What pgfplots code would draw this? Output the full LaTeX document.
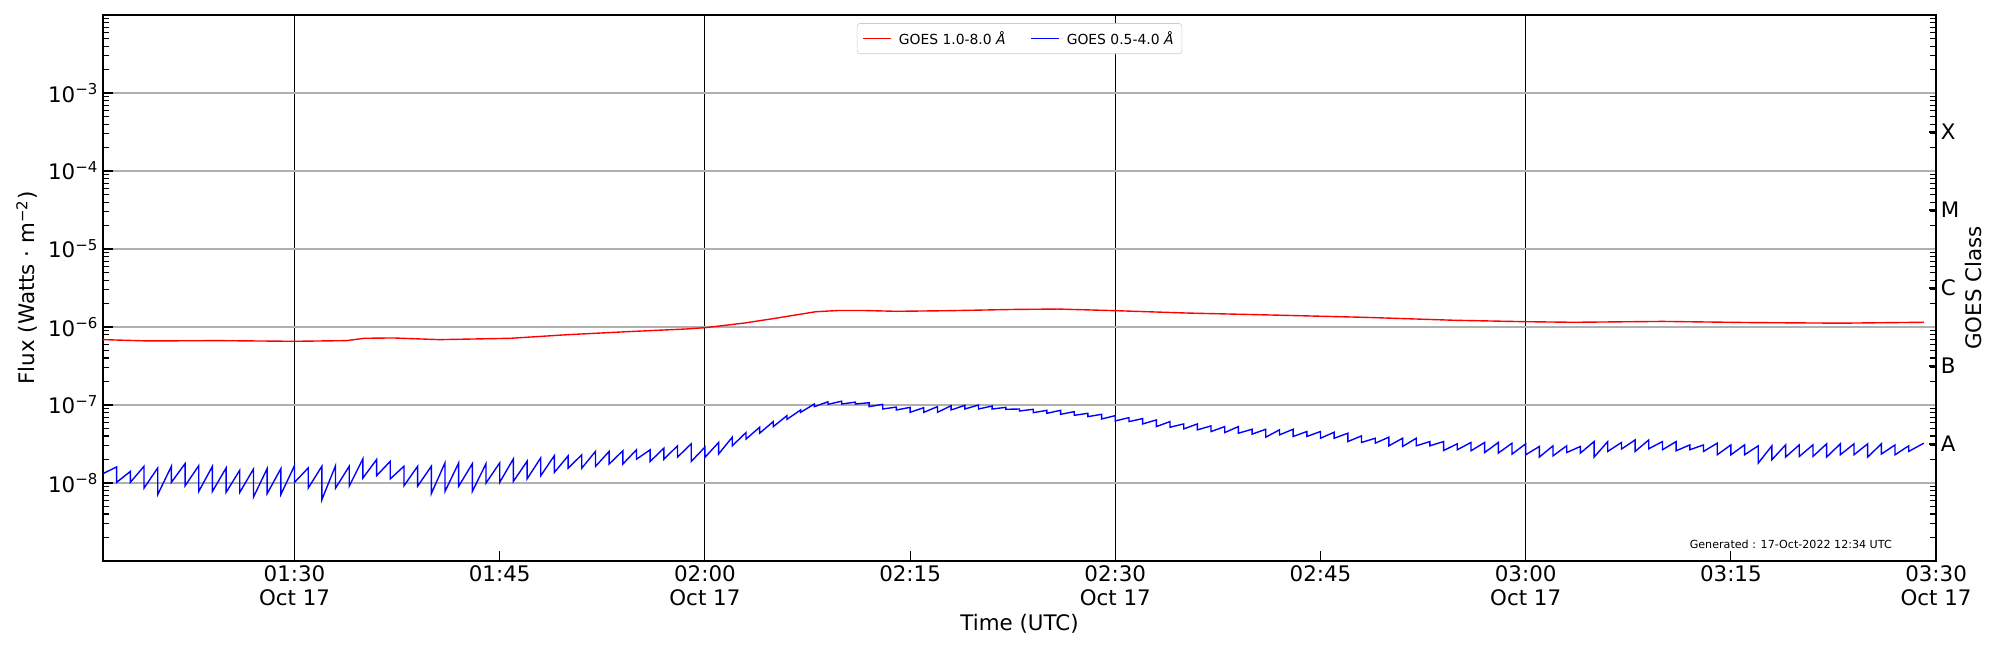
\documentclass[border=0pt]{standalone}
\usepackage{fontspec}
\setmainfont{DejaVu Sans}
\usepackage{pgfplots}
\pgfplotsset{compat=1.18}
\usepackage{pgfplotstable}
\definecolor{gridgray}{RGB}{176,176,176}
\definecolor{legframe}{RGB}{204,204,204}

\pgfplotstableread{
t v
76 6.89e-7
79.3 6.63e-7
84.4 6.69e-7
90 6.56e-7
93.8 6.69e-7
95.1 7.17e-7
97.2 7.24e-7
100.6 6.89e-7
105.8 7.17e-7
110 7.98e-7
114.3 8.71e-7
118.6 9.43e-7
120 9.80e-7
122.9 1.125e-6
125.1 1.29e-6
128.1 1.57e-6
129.8 1.63e-6
131.5 1.63e-6
134 1.59e-6
137.9 1.62e-6
142.6 1.68e-6
145.8 1.70e-6
150 1.62e-6
155.3 1.51e-6
161.8 1.42e-6
168.3 1.33e-6
174.8 1.22e-6
180 1.17e-6
183.5 1.15e-6
190 1.18e-6
196.5 1.14e-6
203 1.12e-6
209.1 1.15e-6
}\goesa

\pgfplotstableread{
t v
76 1.32e-8
77 1.61e-8
77 1.02e-8
78 1.41e-8
78 1.02e-8
79 1.64e-8
79 0.86e-8
80 1.56e-8
80 0.71e-8
81 1.64e-8
81 1.02e-8
82 1.77e-8
82 0.92e-8
83 1.67e-8
83 0.78e-8
84 1.64e-8
84 0.78e-8
85 1.56e-8
85 0.76e-8
86 1.46e-8
86 0.76e-8
87 1.51e-8
87 0.66e-8
88 1.53e-8
88 0.73e-8
89 1.53e-8
89 0.71e-8
90 1.67e-8
90 1.02e-8
91 1.56e-8
91 0.86e-8
92 1.64e-8
92 0.61e-8
93 1.67e-8
93 0.86e-8
94 1.64e-8
94 0.91e-8
95 2.04e-8
95 1.16e-8
96 2.00e-8
96 1.24e-8
97 1.90e-8
97 1.13e-8
98 1.64e-8
98 0.92e-8
99 1.64e-8
99 0.91e-8
100 1.64e-8
100 0.73e-8
101 1.81e-8
101 0.78e-8
102 1.81e-8
102 0.91e-8
103 1.77e-8
103 0.78e-8
104 1.77e-8
104 1.00e-8
105 1.81e-8
105 1.02e-8
106 2.04e-8
106 1.05e-8
107 1.90e-8
107 1.13e-8
108 2.10e-8
108 1.24e-8
109 2.25e-8
109 1.37e-8
110 2.23e-8
110 1.55e-8
111 2.30e-8
111 1.55e-8
112 2.54e-8
112 1.63e-8
113 2.54e-8
113 1.75e-8
114 2.59e-8
114 1.75e-8
115 2.67e-8
115 2.02e-8
116 2.67e-8
116 1.89e-8
117 2.80e-8
117 2.02e-8
118 3.00e-8
118 2.15e-8
119 3.18e-8
119 1.89e-8
120 2.88e-8
120 2.13e-8
121 3.31e-8
121 2.35e-8
122 3.87e-8
122 3.00e-8
123 4.43e-8
123 3.65e-8
124 5.19e-8
124 4.35e-8
125 6.13e-8
125 5.29e-8
126 7.31e-8
126 6.56e-8
127 8.64e-8
127 8.06e-8
128 10.3e-8
128 9.53e-8
129 11.0e-8
129 10.2e-8
130 11.2e-8
130 10.3e-8
131 10.9e-8
131 10.3e-8
132 10.7e-8
132 9.53e-8
133 10.2e-8
133 8.89e-8
134 9.42e-8
134 8.64e-8
135 9.33e-8
135 8.06e-8
136 9.25e-8
136 8.06e-8
137 9.53e-8
137 8.06e-8
138 9.80e-8
138 8.64e-8
139 9.90e-8
139 8.89e-8
140 10.0e-8
140 8.89e-8
141 9.71e-8
141 8.89e-8
142 9.33e-8
142 8.81e-8
143 8.89e-8
143 8.38e-8
144 8.81e-8
144 7.98e-8
145 8.55e-8
145 7.83e-8
146 8.55e-8
146 7.60e-8
147 8.22e-8
147 7.38e-8
148 7.83e-8
148 7.10e-8
149 7.60e-8
149 6.62e-8
150 7.31e-8
150 6.25e-8
151 6.89e-8
151 6.13e-8
152 6.70e-8
152 5.72e-8
153 6.44e-8
153 5.29e-8
154 6.13e-8
154 5.19e-8
155 5.72e-8
155 4.94e-8
156 5.72e-8
156 4.80e-8
157 5.40e-8
157 4.57e-8
158 5.29e-8
158 4.43e-8
159 5.29e-8
159 4.35e-8
160 4.89e-8
160 4.23e-8
161 4.89e-8
161 3.87e-8
162 4.80e-8
162 4.14e-8
163 4.89e-8
163 3.95e-8
164 4.57e-8
164 3.95e-8
165 4.57e-8
165 3.75e-8
166 4.48e-8
166 3.75e-8
167 4.35e-8
167 3.40e-8
168 4.02e-8
168 3.31e-8
169 3.75e-8
169 3.24e-8
170 3.87e-8
170 3.00e-8
171 3.75e-8
171 2.94e-8
172 3.75e-8
172 3.00e-8
173 3.40e-8
173 3.00e-8
174 3.40e-8
174 2.61e-8
175 3.18e-8
175 2.67e-8
176 3.31e-8
176 2.59e-8
177 3.31e-8
177 2.46e-8
178 3.31e-8
178 2.42e-8
179 3.24e-8
179 2.35e-8
180 3.18e-8
180 2.30e-8
181 2.94e-8
181 2.15e-8
182 3.00e-8
182 2.23e-8
183 3.00e-8
183 2.46e-8
184 2.94e-8
184 2.42e-8
185 3.40e-8
185 2.15e-8
186 3.40e-8
186 2.54e-8
187 3.31e-8
187 2.72e-8
188 3.57e-8
188 2.54e-8
189 3.57e-8
189 2.75e-8
190 3.40e-8
190 2.67e-8
191 3.40e-8
191 2.59e-8
192 3.08e-8
192 2.67e-8
193 3.08e-8
193 2.54e-8
194 3.24e-8
194 2.30e-8
195 3.08e-8
195 2.30e-8
196 3.08e-8
196 2.30e-8
197 3.00e-8
197 1.80e-8
198 3.00e-8
198 1.99e-8
199 3.08e-8
199 2.15e-8
200 3.08e-8
200 2.19e-8
201 3.08e-8
201 2.19e-8
202 3.18e-8
202 2.15e-8
203 3.18e-8
203 2.30e-8
204 3.18e-8
204 2.30e-8
205 3.18e-8
205 2.15e-8
206 3.18e-8
206 2.35e-8
207 3.08e-8
207 2.30e-8
208 3.00e-8
208 2.54e-8
209.1 3.24e-8
}\goesb

\begin{document}
\begin{tikzpicture}
\useasboundingbox (0,0) rectangle (1440pt,468pt);
\begin{axis}[
  at={(74.16pt,64.08pt)}, anchor=south west,
  scale only axis, width=1319.8pt, height=393.1pt,
  xmin=76, xmax=210,
  ymode=log, ymin=1e-9, ymax=1e-2,
  tick align=inside,
  tick style={black, line width=0.8pt},
  axis line style={black, line width=0.9pt},
  tick label style={font=\fontsize{15.4}{17.2}\selectfont},
  label style={font=\fontsize{15.4}{18}\selectfont},
  minor ytick={2e-9,3e-9,4e-9,5e-9,6e-9,7e-9,8e-9,9e-9,
    2e-8,3e-8,4e-8,5e-8,6e-8,7e-8,8e-8,9e-8,
    2e-7,3e-7,4e-7,5e-7,6e-7,7e-7,8e-7,9e-7,
    2e-6,3e-6,4e-6,5e-6,6e-6,7e-6,8e-6,9e-6,
    2e-5,3e-5,4e-5,5e-5,6e-5,7e-5,8e-5,9e-5,
    2e-4,3e-4,4e-4,5e-4,6e-4,7e-4,8e-4,9e-4,
    2e-3,3e-3,4e-3,5e-3,6e-3,7e-3,8e-3,9e-3},
  major tick length=7pt, minor tick length=4.5pt,
  ytick pos=left, xtick pos=bottom,
  ytick={1e-8,1e-7,1e-6,1e-5,1e-4,1e-3},
  yticklabels={10\textsuperscript{−8},10\textsuperscript{−7},10\textsuperscript{−6},10\textsuperscript{−5},10\textsuperscript{−4},10\textsuperscript{−3}},
  ymajorgrids,
  major y grid style={gridgray, line width=0.8pt},
  xtick={90,120,150,180,210},
  xticklabels={{01:30\\Oct 17},{02:00\\Oct 17},{02:30\\Oct 17},{03:00\\Oct 17},{03:30\\Oct 17}},
  xticklabel style={align=center},
  xmajorgrids,
  major x grid style={black, line width=0.8pt},
  extra x ticks={105,135,165,195},
  extra x tick labels={01:45,02:15,02:45,03:15},
  extra x tick style={grid=none},
  xlabel={Time (UTC)},
  xlabel style={at={(axis description cs:0.5,-0.1155)}, anchor=center},
  ylabel={Flux (Watts · m\textsuperscript{−2})},
  ylabel style={at={(axis description cs:-0.0415,0.5)}, anchor=center},
  legend columns=2,
  legend image code/.code={\draw[#1] (0pt,0pt) -- (20pt,0pt);},
  legend style={at={(0.5,0.985)}, anchor=north, draw=legframe, rounded corners=2pt,
    fill=white, font=\fontsize{10}{12}\selectfont, inner xsep=4pt, inner ysep=3.5pt,
    /tikz/column 1/.style={column sep=3pt},
    /tikz/column 2/.style={column sep=16pt},
    /tikz/column 3/.style={column sep=3pt}},
]
\addplot[red, line width=1pt] table[x=t, y=v] {\goesa};
\addlegendentry{GOES 1.0-8.0 \textit{Å}}
\addplot[blue, line width=1pt] table[x=t, y=v] {\goesb};
\addlegendentry{GOES 0.5-4.0 \textit{Å}}
\node[anchor=south east, inner sep=0pt, font=\fontsize{8}{9.6}\selectfont] at (rel axis cs:0.976,0.022) {Generated : 17-Oct-2022 12:34 UTC};
\end{axis}
\begin{axis}[
  at={(74.16pt,64.08pt)}, anchor=south west,
  scale only axis, width=1319.8pt, height=393.1pt,
  xmin=76, xmax=210,
  ymode=log, ymin=1e-9, ymax=1e-2,
  tick align=inside,
  tick style={black, line width=0.8pt},
  axis line style={black, line width=0.9pt},
  tick label style={font=\fontsize{15.4}{17.2}\selectfont},
  label style={font=\fontsize{15.4}{18}\selectfont},
  minor ytick={2e-9,3e-9,4e-9,5e-9,6e-9,7e-9,8e-9,9e-9,
    2e-8,3e-8,4e-8,5e-8,6e-8,7e-8,8e-8,9e-8,
    2e-7,3e-7,4e-7,5e-7,6e-7,7e-7,8e-7,9e-7,
    2e-6,3e-6,4e-6,5e-6,6e-6,7e-6,8e-6,9e-6,
    2e-5,3e-5,4e-5,5e-5,6e-5,7e-5,8e-5,9e-5,
    2e-4,3e-4,4e-4,5e-4,6e-4,7e-4,8e-4,9e-4,
    2e-3,3e-3,4e-3,5e-3,6e-3,7e-3,8e-3,9e-3},
  major tick length=5pt, minor tick length=4.5pt,
  axis x line=none,
  axis y line*=right,
  ytick={3.1623e-8,3.1623e-7,3.1623e-6,3.1623e-5,3.1623e-4},
  yticklabels={A,B,C,M,X},
  ylabel={GOES Class},
  ylabel style={at={(axis description cs:1.0202,0.5)}, anchor=center},
]
\addplot[draw=none, forget plot] coordinates {(76,1e-8) (210,1e-3)};
\end{axis}
\end{tikzpicture}
\end{document}
